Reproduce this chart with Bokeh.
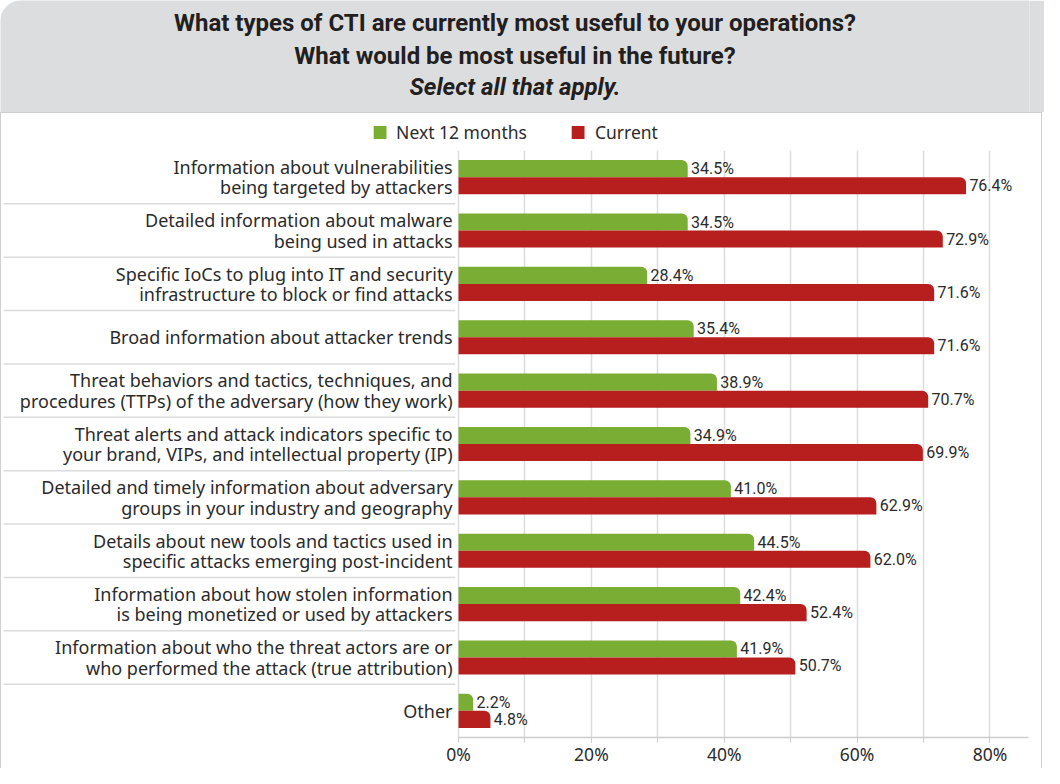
from bokeh.plotting import figure
from bokeh.models import (ColumnDataSource, Range1d, FixedTicker, PrintfTickFormatter,
                          Legend, LegendItem)
from bokeh.transform import dodge
from bokeh.layouts import column
from bokeh.embed import file_html
from bokeh.resources import INLINE
from bokeh.core.properties import value

# ---------------- data ----------------
title_lines = ["What types of CTI are currently most useful to your operations?",
               "What would be most useful in the future?"]
subtitle = "Select all that apply."

categories = [
    "Information about vulnerabilities\nbeing targeted by attackers",
    "Detailed information about malware\nbeing used in attacks",
    "Specific IoCs to plug into IT and security\ninfrastructure to block or find attacks",
    "Broad information about attacker trends",
    "Threat behaviors and tactics, techniques, and\nprocedures (TTPs) of the adversary (how they work)",
    "Threat alerts and attack indicators specific to\nyour brand, VIPs, and intellectual property (IP)",
    "Detailed and timely information about adversary\ngroups in your industry and geography",
    "Details about new tools and tactics used in\nspecific attacks emerging post-incident",
    "Information about how stolen information\nis being monetized or used by attackers",
    "Information about who the threat actors are or\nwho performed the attack (true attribution)",
    "Other",
]
next_12_months = [34.5, 34.5, 28.4, 35.4, 38.9, 34.9, 41.0, 44.5, 42.4, 41.9, 2.2]
current = [76.4, 72.9, 71.6, 71.6, 70.7, 69.9, 62.9, 62.0, 52.4, 50.7, 4.8]
series_names = ["Next 12 months", "Current"]
x_tick_values = [0, 20, 40, 60, 80]
x_grid_values = [0, 10, 20, 30, 40, 50, 60, 70, 80]

# ---------------- style ----------------
GREEN = "#7aad34"
RED = "#b71e1e"
TEXT = "#2b2b2b"
GRIDC = "#dcdcdc"
BORDER = "#cfcfcf"
LABEL_FONT = "Noto Sans"
VALUE_FONT = "Roboto"
TITLE_FONT = "Roboto"

X_START, X_END = -68.8, 85.8
HEAD_H, LEG_H, MAIN_H = 112, 38, 618
BAR_RADIUS = (0, 6, 0, 0)

n = len(categories)
ypos = [n - 1 - i for i in range(n)]
src = ColumnDataSource(dict(
    cat=categories, y=ypos, nxt=next_12_months, cur=current,
    nxt_lbl=[f"{v:.1f}%" for v in next_12_months],
    cur_lbl=[f"{v:.1f}%" for v in current],
))

# ---------------- header ----------------
head = figure(width=1044, height=HEAD_H, x_range=Range1d(0, 1), y_range=Range1d(HEAD_H, 0),
              toolbar_location=None, output_backend="svg", x_axis_type=None,
              y_axis_type=None, min_border=0, background_fill_color="#dcdddf",
              border_fill_color="#dcdddf", outline_line_color=None)
head.grid.visible = False
head.styles = {"border-top-left-radius": "22px", "overflow": "hidden"}
head.text(x=[0.5, 0.5], y=[22, 55], text=title_lines, text_align="center",
          text_baseline="middle", text_font=value(TITLE_FONT), text_font_size="24px",
          text_font_style="bold", text_color="#231f20")
head.text(x=[0.5], y=[86], text=[subtitle], text_align="center",
          text_baseline="middle", text_font=value(TITLE_FONT), text_font_size="24px",
          text_font_style="bold italic", text_color="#231f20")

# ---------------- legend strip ----------------
leg = figure(width=1042, height=LEG_H, x_range=Range1d(0, 1), y_range=Range1d(0, 1),
             toolbar_location=None, output_backend="svg", x_axis_type=None,
             y_axis_type=None, min_border=0, outline_line_color=None,
             background_fill_color="white", border_fill_color="white")
leg.grid.visible = False
leg.styles = {"border-left": f"1px solid {BORDER}", "border-right": f"1px solid {BORDER}",
              "border-top": f"1px solid {BORDER}"}
lg1 = leg.hbar(y="y", left=0, right="nxt", height=0.3, source=src,
               fill_color=GREEN, line_color=None, visible=False)
lg2 = leg.hbar(y="y", left=0, right="cur", height=0.3, source=src,
               fill_color=RED, line_color=None, visible=False)
legend = Legend(items=[LegendItem(label=series_names[0], renderers=[lg1]),
                       LegendItem(label=series_names[1], renderers=[lg2])],
                orientation="horizontal", location="center",
                border_line_color=None, background_fill_alpha=0,
                inactive_fill_alpha=0,
                glyph_width=16, glyph_height=16, label_height=20,
                label_text_font=LABEL_FONT, label_text_font_size="17.5px",
                label_text_color=TEXT, spacing=43, label_standoff=9,
                padding=0, margin=0)
leg.add_layout(legend, "center")

# ---------------- main chart ----------------
p = figure(width=1042, height=MAIN_H, x_range=Range1d(X_START, X_END),
           y_range=Range1d(-0.5, n - 0.5), toolbar_location=None,
           output_backend="svg", y_axis_type=None,
           min_border_left=0, min_border_right=15, min_border_top=0,
           min_border_bottom=0, outline_line_color=None,
           background_fill_color="white", border_fill_color="white")
p.styles = {"border-left": f"1px solid {BORDER}", "border-right": f"1px solid {BORDER}"}

p.ygrid.visible = False
p.xgrid.ticker = FixedTicker(ticks=x_grid_values)
p.xgrid.grid_line_color = GRIDC
p.xgrid.grid_line_width = 1.5

# row separators in label area
sep_y = [y + 0.5 for y in ypos if y < n - 1]
p.segment(x0=[X_START + 0.3] * len(sep_y), x1=[-0.5] * len(sep_y), y0=sep_y, y1=sep_y,
          line_color=GRIDC, line_width=1.5)

r1 = p.hbar(y=dodge("y", 0.16), left=0, right="nxt", height=0.32, source=src,
            fill_color=GREEN, line_color=None, border_radius=BAR_RADIUS)
r2 = p.hbar(y=dodge("y", -0.16), left=0, right="cur", height=0.32, source=src,
            fill_color=RED, line_color=None, border_radius=BAR_RADIUS)

p.text(x=dodge("nxt", 0.5), y=dodge("y", 0.16), text="nxt_lbl", source=src,
       text_align="left", text_baseline="middle", text_font=value(VALUE_FONT),
       text_font_size="16px", text_color=TEXT)
p.text(x=dodge("cur", 0.5), y=dodge("y", -0.16), text="cur_lbl", source=src,
       text_align="left", text_baseline="middle", text_font=value(VALUE_FONT),
       text_font_size="16px", text_color=TEXT)

p.text(x=-0.9, y="y", text="cat", source=src, text_align="right",
       text_baseline="middle", text_font=value(LABEL_FONT), text_font_size="18px",
       text_color=TEXT, text_line_height=0.85)

ax = p.xaxis[0]
ax.ticker = FixedTicker(ticks=x_tick_values, minor_ticks=x_grid_values)
ax.formatter = PrintfTickFormatter(format="%d%%")
ax.bounds = (0, X_END)
ax.axis_line_color = "#cccccc"
ax.axis_line_width = 1.5
ax.major_tick_line_color = "#cccccc"
ax.minor_tick_line_color = "#cccccc"
ax.major_tick_in = 0
ax.major_tick_out = 5
ax.minor_tick_in = 0
ax.minor_tick_out = 5
ax.major_label_standoff = -1
ax.major_label_text_font = LABEL_FONT
ax.major_label_text_font_size = "17.5px"
ax.major_label_text_color = TEXT

layout = column(head, leg, p, spacing=0)
open("out.html", "w").write(file_html(layout, INLINE))
